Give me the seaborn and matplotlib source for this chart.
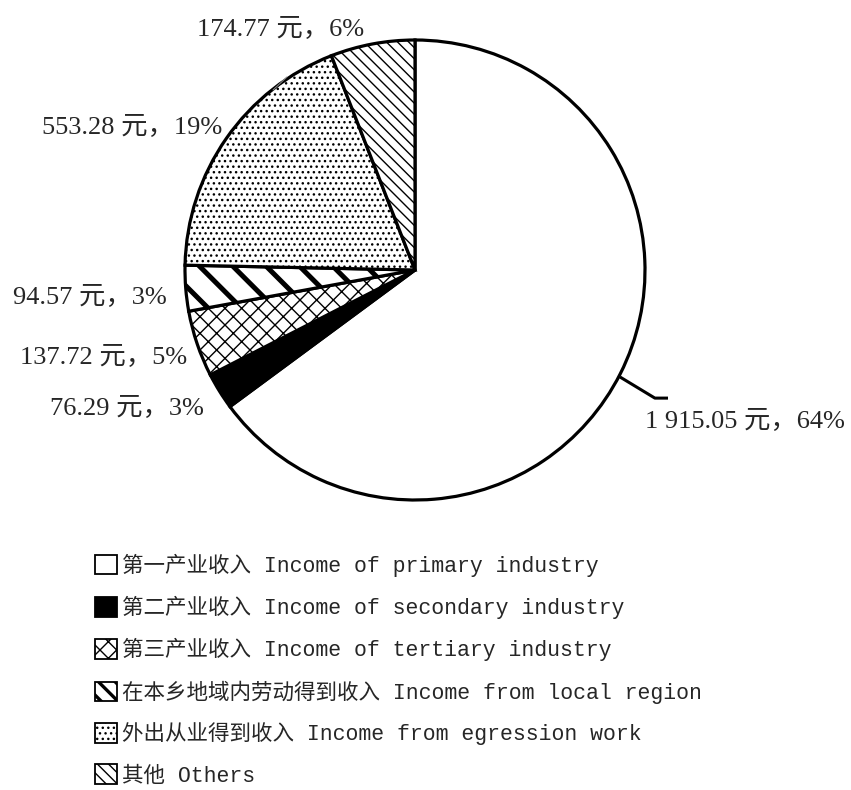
import matplotlib
matplotlib.use("Agg")
import matplotlib.pyplot as plt
import seaborn as sns

# data
names = ["第一产业收入 Income of primary industry",
         "第二产业收入 Income of secondary industry",
         "第三产业收入 Income of tertiary industry",
         "在本乡地域内劳动得到收入 Income from local region",
         "外出从业得到收入 Income from egression work",
         "其他 Others"]
values = [1915.05, 76.29, 137.72, 94.57, 553.28, 174.77]
value_labels = ["1 915.05", "76.29", "137.72", "94.57", "553.28", "174.77"]
pct_labels = ["64%", "3%", "5%", "3%", "19%", "6%"]

# styling for each wedge
fills = ["white", "black", "white", "white", "white", "white"]
hatches = [None, None, "xx", "\\", "...", "\\\\\\"]
hatch_lw = [1.0, 1.0, 1.0, 3.6, 1.0, 1.0]
# legend swatches are small, so the wide stripes get a tighter pattern there
legend_hatches = [None, None, "xx", "\\\\", "...", "\\\\\\"]
legend_hatch_lw = [1.0, 1.0, 1.0, 2.4, 1.0, 1.0]

# label anchor positions (axes data units, pie radius = 1) and alignment
label_pos = [(1.0, -0.66), (-0.92, -0.60), (-0.99, -0.38),
             (-1.08, -0.12), (-0.84, 0.62), (-0.585, 1.045)]
label_ha = ["left", "right", "right", "right", "right", "center"]

sns.set_style("white")
plt.rcParams["font.family"] = ["Liberation Serif", "Noto Sans CJK SC"]
plt.rcParams["hatch.color"] = "black"

fig = plt.figure(figsize=(8.51, 7.9), dpi=100)
W, H = 851, 790
cx, cy, r = 415, 270, 230
ax = fig.add_axes([(cx - r) / W, 1 - (cy + r) / H, 2 * r / W, 2 * r / H])

wedges, _ = ax.pie(values, startangle=90, counterclock=False, colors=fills,
                   labels=names, labeldistance=None,
                   wedgeprops=dict(edgecolor="black", linewidth=2.3))
for w, h, lw in zip(wedges, hatches, hatch_lw):
    if h:
        w.set_hatch(h)
    if hasattr(w, "set_hatch_linewidth"):
        w.set_hatch_linewidth(lw)

ax.set_xlim(-1, 1)
ax.set_ylim(-1, 1)
ax.set_aspect("equal")
ax.axis("off")

for (x, y), ha, v, p in zip(label_pos, label_ha, value_labels, pct_labels):
    ax.text(x, y, f"{v} 元，{p}", ha=ha, va="center", fontsize=19)

# leader line for the largest slice
ax.plot([0.891, 1.043, 1.10], [-0.465, -0.557, -0.557], color="black",
        lw=2.2, solid_capstyle="butt", clip_on=False)
ax.plot([-0.617, -0.557], [0.783, 0.839], color="gray", lw=0.8, clip_on=False)

leg = fig.legend(handles=wedges, labels=names, loc="upper left",
                 bbox_to_anchor=(95 / W, 1 - 554 / H), frameon=False,
                 prop=dict(family=["Liberation Mono", "Noto Sans CJK SC"], size=15.5),
                 handlelength=1.0, handleheight=1.0, handletextpad=0.25,
                 labelspacing=0.88, borderpad=0, borderaxespad=0)
for hnd, h, lw in zip(leg.legend_handles, legend_hatches, legend_hatch_lw):
    hnd.set_linewidth(1.3)
    hnd.set_hatch(h)
    if hasattr(hnd, "set_hatch_linewidth"):
        hnd.set_hatch_linewidth(lw)

fig.savefig("out.png", dpi=100)
